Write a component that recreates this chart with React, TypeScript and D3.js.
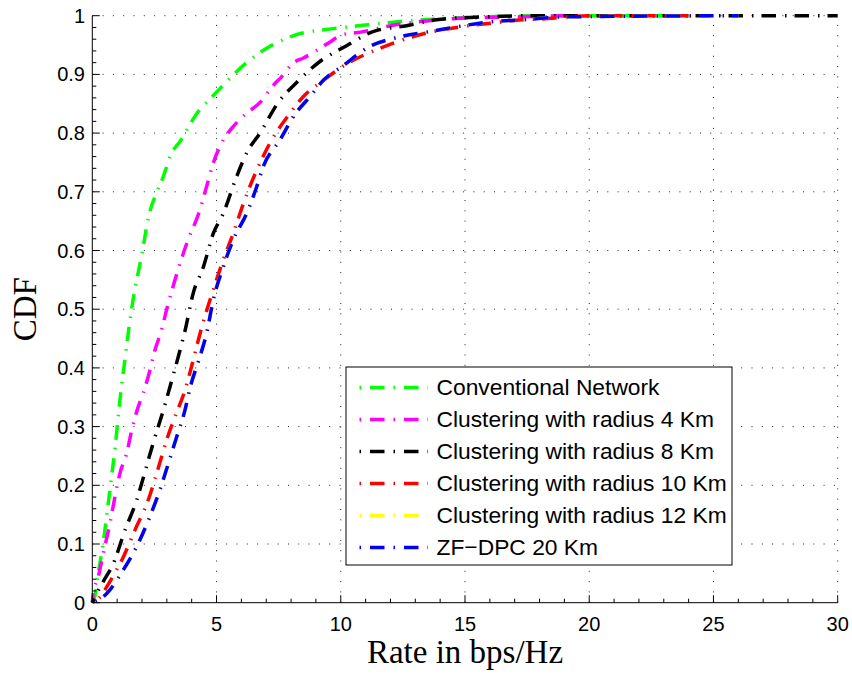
import React from 'react';
import * as d3 from 'd3';

const xTicks = [0, 5, 10, 15, 20, 25, 30];
const yTicks = [0, 0.1, 0.2, 0.3, 0.4, 0.5, 0.6, 0.7, 0.8, 0.9, 1];
const yTickLabels = ['0', '0.1', '0.2', '0.3', '0.4', '0.5', '0.6', '0.7', '0.8', '0.9', '1'];

const seriesNames = [
  'Conventional Network',
  'Clustering with radius 4 Km',
  'Clustering with radius 8 Km',
  'Clustering with radius 10 Km',
  'Clustering with radius 12 Km',
  'ZF\u2212DPC 20 Km',
];
const seriesColors = ['#00ff00', '#ff00ff', '#000000', '#ff0000', '#ffff00', '#0000ff'];

const convX = [0, 0.1, 0.24, 0.45, 0.6, 0.77, 0.92, 1.05, 1.18, 1.3, 1.45, 1.6, 2.0, 2.28, 2.6, 2.85, 3.15, 3.55, 4.2, 4.87, 5.4, 6.15, 7.0, 8.1, 9.7, 11.0, 12.4, 13.7, 15.1, 16.5, 18, 24];
const convY = [0, 0.01, 0.05, 0.105, 0.155, 0.213, 0.265, 0.32, 0.37, 0.41, 0.46, 0.505, 0.595, 0.66, 0.7, 0.725, 0.762, 0.787, 0.833, 0.864, 0.887, 0.918, 0.944, 0.966, 0.978, 0.984, 0.99, 0.994, 0.997, 0.999, 1, 1];

const r4X = [0, 0.04, 0.24, 0.44, 0.71, 0.91, 1.11, 1.38, 1.59, 1.85, 2.05, 2.32, 2.52, 2.79, 2.99, 3.33, 3.8, 4.33, 4.6, 4.87, 5.27, 5.67, 6.21, 6.75, 7.3, 7.6, 8.1, 8.5, 9.45, 10.1, 10.8, 12.0, 13.2, 14.5, 15.9, 17.2, 19];
const r4Y = [0, 0.016, 0.044, 0.084, 0.135, 0.18, 0.22, 0.254, 0.294, 0.334, 0.357, 0.396, 0.43, 0.465, 0.499, 0.55, 0.612, 0.669, 0.709, 0.749, 0.788, 0.811, 0.834, 0.852, 0.882, 0.895, 0.92, 0.928, 0.952, 0.968, 0.972, 0.983, 0.99, 0.995, 0.997, 0.998, 1];

const r8X = [0, 0.18, 0.44, 0.85, 1.32, 1.79, 2.12, 2.45, 2.86, 3.2, 3.53, 3.73, 4.06, 4.47, 4.87, 5.27, 5.81, 6.21, 6.75, 7.45, 8.29, 9.16, 10.2, 11.3, 12.65, 13.86, 15.2, 16.5, 18, 30];
const r8Y = [0, 0.016, 0.036, 0.067, 0.124, 0.175, 0.223, 0.272, 0.328, 0.379, 0.43, 0.463, 0.527, 0.572, 0.629, 0.663, 0.726, 0.766, 0.8, 0.85, 0.889, 0.922, 0.948, 0.973, 0.983, 0.993, 0.997, 0.999, 1, 1];

const r10X = [0, 0.2, 0.38, 0.58, 0.9, 1.25, 1.72, 2.25, 2.59, 2.99, 3.33, 3.73, 4.06, 4.27, 4.47, 4.87, 5.27, 5.67, 6.14, 6.62, 7.15, 7.96, 8.49, 9.3, 10.37, 11.5, 12.65, 13.72, 15.2, 16.4, 17.3, 17.9, 20, 24];
const r10Y = [0, 0.005, 0.013, 0.027, 0.05, 0.078, 0.124, 0.175, 0.22, 0.277, 0.317, 0.362, 0.413, 0.448, 0.479, 0.533, 0.584, 0.629, 0.687, 0.737, 0.783, 0.834, 0.862, 0.89, 0.921, 0.943, 0.961, 0.973, 0.983, 0.989, 0.993, 0.994, 1, 1];

const r12X = [0, 0.2, 0.44, 0.71, 1.25, 1.85, 2.32, 2.72, 3.06, 3.4, 3.73, 3.93, 4.33, 4.6, 4.87, 5.27, 5.67, 6.21, 6.62, 6.88, 7.55, 8.09, 8.76, 9.3, 10.1, 11.1, 12.38, 13.59, 14.93, 16.14, 17.34, 19, 26];
const r12Y = [0, 0.004, 0.01, 0.022, 0.056, 0.101, 0.147, 0.192, 0.237, 0.283, 0.328, 0.365, 0.419, 0.459, 0.516, 0.572, 0.618, 0.663, 0.709, 0.743, 0.788, 0.828, 0.862, 0.89, 0.915, 0.946, 0.964, 0.973, 0.983, 0.99, 0.993, 0.998, 1];

const zfX = [0, 0.2, 0.44, 0.71, 1.25, 1.85, 2.32, 2.72, 3.06, 3.4, 3.73, 3.93, 4.33, 4.6, 4.87, 5.27, 5.67, 6.21, 6.62, 6.88, 7.55, 8.09, 8.76, 9.3, 10.1, 11.1, 12.38, 13.59, 14.93, 16.14, 17.34, 19, 26];
const zfY = [0, 0.004, 0.01, 0.022, 0.056, 0.101, 0.147, 0.192, 0.237, 0.283, 0.328, 0.365, 0.419, 0.459, 0.516, 0.572, 0.618, 0.663, 0.709, 0.743, 0.788, 0.828, 0.862, 0.89, 0.915, 0.946, 0.964, 0.973, 0.983, 0.99, 0.993, 0.998, 1];

const seriesX = [convX, r4X, r8X, r10X, r12X, zfX];
const seriesY = [convY, r4Y, r8Y, r10Y, r12Y, zfY];

const W = 852;
const H = 675;
const left = 92.3;
const right = 837.7;
const top = 15.7;
const bottom = 602.7;

const DASH = '14.5,9,1.5,8';
const dashOffsets = [0, 5, 10, 15, 20, 20];

export default function App() {
  const x = d3.scaleLinear().domain([0, 30]).range([left, right]);
  const y = d3.scaleLinear().domain([0, 1]).range([bottom, top]);
  const line = d3
    .line<[number, number]>()
    .x((d) => x(d[0]))
    .y((d) => y(d[1]))
    .curve(d3.curveMonotoneX);

  const xMinor = d3.range(0, 31, 1).filter((v) => v % 5 !== 0);
  const yMinor = d3.range(0, 51, 1).filter((v) => v % 5 !== 0).map((v) => v / 50);

  const legX = 346;
  const legY = 367;
  const legW = 386;
  const legH = 198;
  const rowBase = [395, 427, 459, 491, 523, 555];

  return (
    <svg
      width={W}
      height={H}
      style={{ position: 'absolute', left: 0, top: 0, background: '#fff' }}
    >
      <rect x={0} y={0} width={W} height={H} fill="#fff" />
      {/* grid */}
      <g stroke="#222" strokeWidth={1} strokeDasharray="1,9.3" fill="none">
        {xTicks.filter((t) => t > 0).map((t) => (
          <line key={'gx' + t} x1={x(t)} x2={x(t)} y1={bottom} y2={top} />
        ))}
        {yTicks.filter((t) => t > 0).map((t) => (
          <line key={'gy' + t} x1={left} x2={right} y1={y(t)} y2={y(t)} />
        ))}
      </g>
      {/* curves */}
      <g fill="none">
        {seriesX.map((xs, i) => (
          <path
            key={'s' + i}
            d={line(xs.map((v, j) => [v, seriesY[i][j]] as [number, number])) || ''}
            stroke={seriesColors[i]}
            strokeWidth={3.5}
            strokeDasharray={DASH}
            strokeDashoffset={dashOffsets[i]}
          />
        ))}
      </g>
      {/* axes */}
      <g stroke="#000" strokeWidth={1} fill="none">
        <line x1={left} x2={left} y1={top} y2={bottom} />
        <line x1={left} x2={right} y1={bottom} y2={bottom} />
        {xTicks.map((t) => (
          <line key={'xt' + t} x1={x(t)} x2={x(t)} y1={bottom} y2={bottom - 7.5} />
        ))}
        {xMinor.map((t) => (
          <line key={'xm' + t} x1={x(t)} x2={x(t)} y1={bottom} y2={bottom - 4} />
        ))}
        {yTicks.map((t) => (
          <line key={'yt' + t} x1={left} x2={left + 7.5} y1={y(t)} y2={y(t)} />
        ))}
        {yMinor.map((t) => (
          <line key={'ym' + t} x1={left} x2={left + 4} y1={y(t)} y2={y(t)} />
        ))}
      </g>
      {/* tick labels */}
      <g fontFamily="'Liberation Sans', Arial, sans-serif" fontSize={20} fill="#000">
        {xTicks.map((t) => (
          <text key={'xl' + t} x={x(t)} y={631} textAnchor="middle">
            {String(t)}
          </text>
        ))}
        {yTicks.map((t, i) => (
          <text key={'yl' + t} x={85} y={y(t) + 7} textAnchor="end">
            {yTickLabels[i]}
          </text>
        ))}
      </g>
      {/* axis titles */}
      <text
        x={465}
        y={663}
        textAnchor="middle"
        fontFamily="'Liberation Serif', 'Times New Roman', serif"
        fontSize={33}
        fill="#000"
      >
        Rate in bps/Hz
      </text>
      <text
        transform={`translate(36,${(top + bottom) / 2}) rotate(-90)`}
        textAnchor="middle"
        fontFamily="'Liberation Serif', 'Times New Roman', serif"
        fontSize={33}
        fill="#000"
      >
        CDF
      </text>
      {/* legend */}
      <g>
        <rect x={legX} y={legY} width={legW} height={legH} fill="#fff" stroke="#000" strokeWidth={1} />
        {seriesNames.map((name, i) => (
          <g key={'lg' + i}>
            <line
              x1={359.5}
              x2={428}
              y1={rowBase[i] - 7.5}
              y2={rowBase[i] - 7.5}
              stroke={seriesColors[i]}
              strokeWidth={3.5}
              strokeDasharray="1.5,9,14.5,9"
            />
            <text
              x={436.5}
              y={rowBase[i]}
              fontFamily="'Liberation Sans', Arial, sans-serif"
              fontSize={22.8}
              fill="#000"
            >
              {name}
            </text>
          </g>
        ))}
      </g>
    </svg>
  );
}
